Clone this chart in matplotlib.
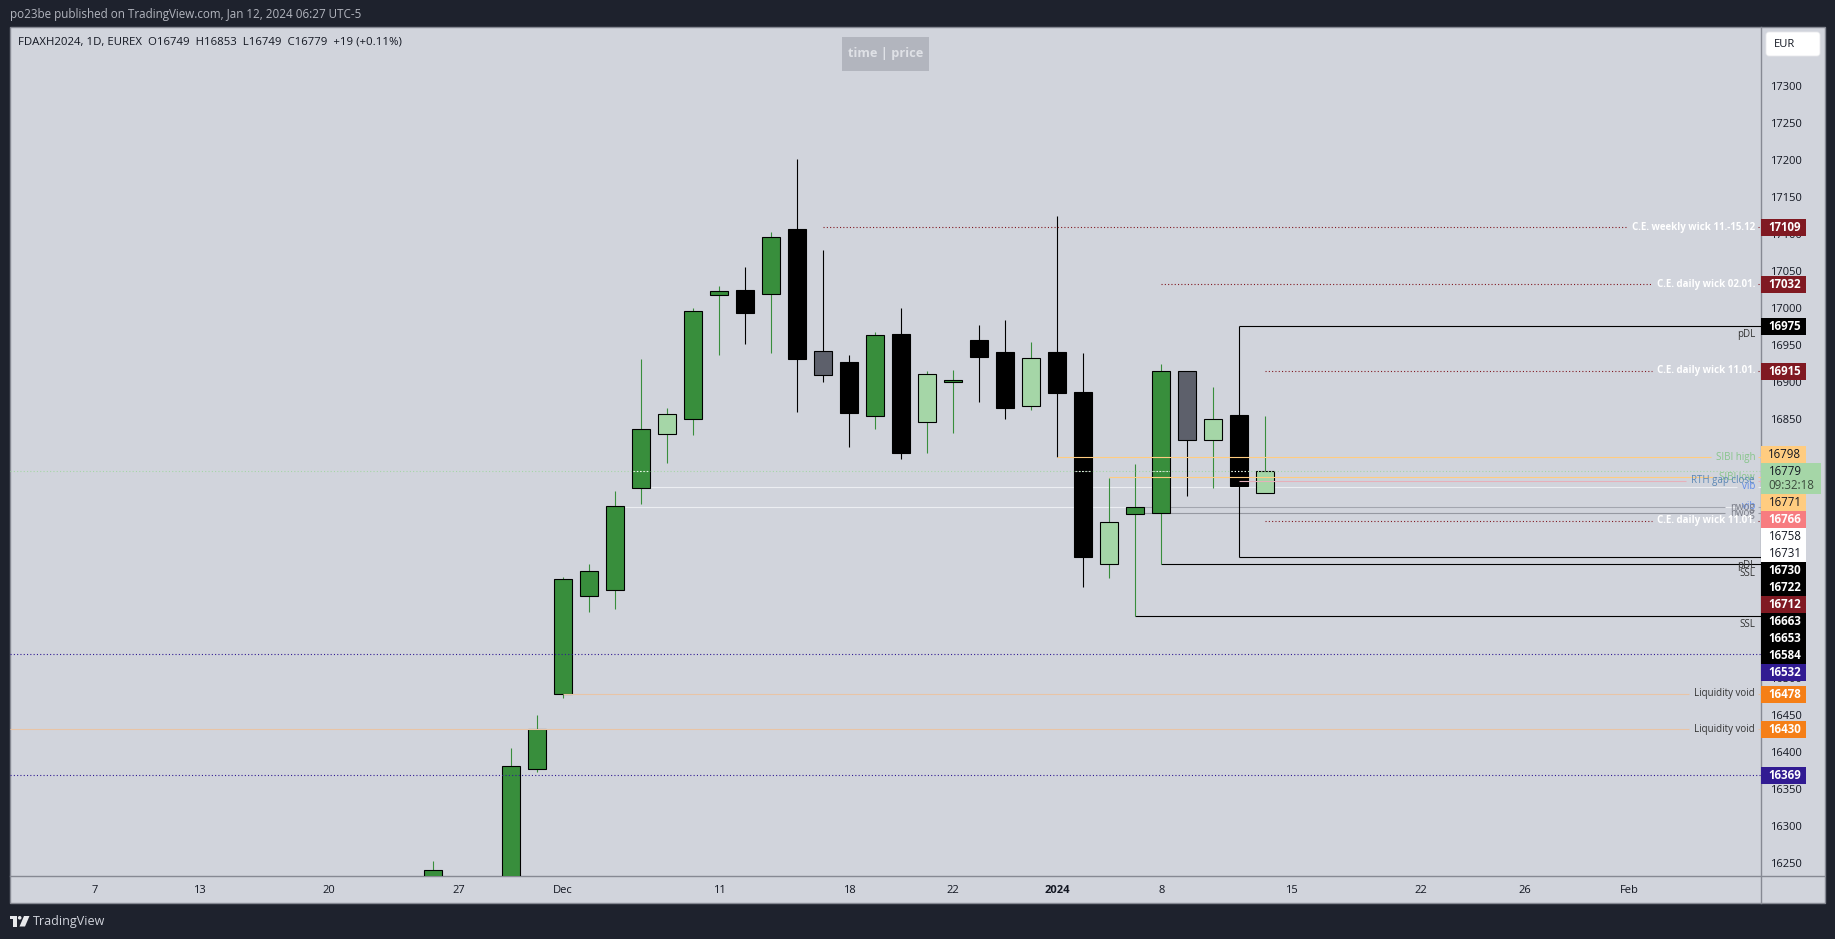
import matplotlib
matplotlib.use('Agg')
import matplotlib.pyplot as plt
from matplotlib.patches import Rectangle, FancyBboxPatch, Polygon, Circle
import pandas as pd

plt.rcParams['font.family'] = ['Open Sans', 'DejaVu Sans']

# daily candles
dates = ['2023-11-24', '2023-11-29', '2023-11-30', '2023-12-01', '2023-12-04', '2023-12-05', '2023-12-06',
         '2023-12-07', '2023-12-08', '2023-12-11', '2023-12-12', '2023-12-13', '2023-12-14', '2023-12-15',
         '2023-12-18', '2023-12-19', '2023-12-20', '2023-12-21', '2023-12-22', '2023-12-27', '2023-12-28',
         '2023-12-29', '2024-01-02', '2024-01-03', '2024-01-04', '2024-01-05', '2024-01-08', '2024-01-09',
         '2024-01-10', '2024-01-11', '2024-01-12']
opens = [16200, 16210, 16376, 16478, 16611, 16619, 16757, 16829, 16850, 17017, 17024, 17019, 17106, 16941,
         16927, 16853, 16964, 16845, 16899, 16956, 16940, 16867, 16940, 16886, 16653, 16721, 16722, 16915,
         16821, 16855, 16749]
highs = [16252, 16405, 16450, 16636, 16654, 16752, 16931, 16864, 17000, 17029, 17055, 17102, 17201, 17078,
         16936, 16967, 17000, 16914, 16916, 16977, 16983, 16954, 17124, 16939, 16770, 16789, 16924, 16915,
         16893, 16975, 16853]
lows = [16190, 16200, 16373, 16473, 16589, 16593, 16735, 16790, 16828, 16936, 16951, 16939, 16859, 16899,
        16812, 16836, 16796, 16804, 16831, 16872, 16849, 16862, 16798, 16623, 16635, 16584, 16653, 16745,
        16757, 16663, 16749]
closes = [16240, 16380, 16430, 16634, 16644, 16732, 16836, 16856, 16996, 17023, 16993, 17095, 16931, 16909,
          16858, 16963, 16804, 16911, 16902, 16934, 16864, 16932, 16885, 16663, 16710, 16730, 16915, 16821,
          16850, 16759, 16779]
# g dark green, l light green, b black, s slate
kinds = ['g', 'g', 'g', 'g', 'g', 'g', 'g', 'l', 'g', 'g', 'b', 'g', 'b', 's', 'b', 'g', 'b', 'l', 'g', 'b',
         'b', 'l', 'b', 'b', 'l', 'g', 'g', 's', 'l', 'b', 'l']

# horizontal levels drawn on the chart
level_price = [17109, 17032, 16975, 16915, 16798, 16771, 16766, 16758, 16731, 16730, 16722, 16712, 16663,
               16653, 16584, 16532, 16478, 16430, 16369]
level_start = ['2023-12-15', '2024-01-08', '2024-01-11', '2024-01-12', '2024-01-02', '2024-01-04', '2024-01-11',
               '2023-12-06', '2023-12-05', '2024-01-05', '2024-01-05', '2024-01-12', '2024-01-11', '2024-01-08',
               '2024-01-05', None, '2023-12-01', None, None]
level_color = ['#801922', '#801922', '#000000', '#801922', '#ffcc80', '#ffcc80', '#e6b0ba', '#eceef2', '#eceef2',
               '#a3a6af', '#9598a1', '#801922', '#000000', '#000000', '#000000', '#311b92', '#e8c4a6', '#e8c4a6',
               '#311b92']
level_dotted = [True, True, False, True, False, False, False, False, False, False, False, True, False, False,
                False, True, False, False, True]
level_text = ['C.E. weekly wick 11.-15.12', 'C.E. daily wick 02.01.', 'pDL', 'C.E. daily wick 11.01.', 'SIBI high',
              'SIBI low', 'RTH gap close', 'vib', 'vib', 'nwog', 'nwog', 'C.E. daily wick 11.01.', 'pDL', 'SSL',
              'SSL', '', 'Liquidity void', 'Liquidity void', '']
text_color = ['white', 'white', '#333333', 'white', '#86c58a', '#86c58a', '#5b87b5', '#5f8ae8', '#5f8ae8', '#787b86',
              '#787b86', 'white', '#333333', '#333333', '#333333', 'black', '#333333', '#333333', 'black']
text_below = [False, False, True, False, False, False, False, False, False, False, False, False, True, True,
              True, False, False, False, False]

# price tags on the right scale, top to bottom
tag_text = ['17109', '17032', '16975', '16915', '16798', '16771', '16766', '16758', '16731', '16730', '16722',
            '16712', '16663', '16653', '16584', '16532', '16478', '16430', '16369']
tag_y = [227.5, 284.5, 326.5, 371.5, 454.7, 502.7, 519.7, 536.7, 553.7, 570.7, 587.7, 604.7, 621.7, 638.7,
         655.7, 672.7, 694.3, 729.5, 775.3]
tag_color = ['#801922', '#801922', '#000000', '#801922', '#ffcc80', '#ffcc80', '#f77c80', '#ffffff', '#ffffff',
             '#000000', '#000000', '#801922', '#000000', '#000000', '#000000', '#311b92', '#f57f17', '#f57f17',
             '#311b92']
tag_ink = ['white', 'white', 'white', 'white', '#131722', '#131722', 'white', '#131722', '#131722', 'white',
           'white', 'white', 'white', 'white', 'white', 'white', 'white', 'white', 'white']

price_ticks = list(range(16250, 17301, 50))
time_tick_dates = ['2023-11-07', '2023-11-13', '2023-11-20', '2023-11-27', '2023-12-01', '2023-12-11', '2023-12-18',
                   '2023-12-22', '2024-01-02', '2024-01-08', '2024-01-15', '2024-01-22', '2024-01-26', '2024-02-01']
time_tick_text = ['7', '13', '20', '27', 'Dec', '11', '18', '22', '2024', '8', '15', '22', '26', 'Feb']

last_price = 16779
countdown = '09:32:18'
header = 'po23be published on TradingView.com, Jan 12, 2024 06:27 UTC-5'
legend = 'FDAXH2024, 1D, EUREX  O16749  H16853  L16749  C16779  +19 (+0.11%)'

W, H = 1835, 939
PX = 0.72  # one pixel in points at dpi 100
DARK = '#1e222d'
PANEL = '#d1d4dc'
EDGE = '#868993'
INK = '#131722'

days = pd.bdate_range('2023-11-07', '2024-02-02').drop(pd.to_datetime(['2023-12-25', '2023-12-26', '2024-01-01']))


def pos(d):
    return days.get_loc(pd.Timestamp(d))


def axes_box(left, top, right, bottom):
    return [left / W, 1 - bottom / H, (right - left) / W, (bottom - top) / H]


fig = plt.figure(figsize=(W / 100, H / 100), dpi=100, facecolor=DARK)

# frame behind the chart, in pixels
back = fig.add_axes([0, 0, 1, 1], zorder=0)
back.set_xlim(0, W)
back.set_ylim(H, 0)
back.axis('off')
back.add_patch(Rectangle((10, 27), 1814.5, 876, fc=PANEL, ec=EDGE, lw=1.4 * PX))
back.plot([10, 1824], [876, 876], color=EDGE, lw=1.4 * PX)
back.plot([1761, 1761], [27, 903], color=EDGE, lw=1.4 * PX)
back.text(10, 14.5, header, color='#b2b5be', fontsize=8.35, va='center')
back.text(33, 921, 'TradingView', color='#d1d4dc', fontsize=9, va='center')
back.add_patch(Rectangle((10, 916), 7, 3, fc='#e8e9ec', ec='none'))
back.add_patch(Rectangle((13, 916), 4, 10.5, fc='#e8e9ec', ec='none'))
back.add_patch(Circle((19.7, 917.8), 1.8, fc='#e8e9ec', ec='none'))
back.add_patch(Polygon([[24, 916], [29.5, 916], [25, 926.5], [19.5, 926.5]], fc='#e8e9ec', ec='none'))

ax = fig.add_axes(axes_box(10, 27, 1761, 876), zorder=1)
ax.patch.set_visible(False)
for s in ax.spines.values():
    s.set_visible(False)
ax.set_xlim((10 - 95.2) / 26, (1761 - 95.2) / 26)
ax.set_ylim(17300 - (876 - 85.7) * 1.3514, 17300 + (85.7 - 27) * 1.3514)

ax.yaxis.tick_right()
ax.set_yticks(price_ticks)
ax.set_yticklabels([str(p) for p in price_ticks])
ax.tick_params(axis='y', length=0, pad=6.3, labelsize=8, labelcolor=INK)
ax.set_xticks([pos(d) for d in time_tick_dates])
ax.set_xticklabels(time_tick_text)
ax.tick_params(axis='x', length=0, pad=6.5, labelsize=8, labelcolor=INK)
for lab in ax.get_xticklabels():
    if lab.get_text() == '2024':
        lab.set_fontweight('bold')

# candles
fills = {'g': '#388e3c', 'l': '#a5d6a7', 'b': '#000000', 's': '#5d606b'}
wicks = {'g': '#388e3c', 'l': '#388e3c', 'b': '#000000', 's': '#000000'}
for d, o, h, l, c, k in zip(dates, opens, highs, lows, closes, kinds):
    x = pos(d)
    ax.vlines(x, l, h, color=wicks[k], lw=1.1 * PX, zorder=3, snap=True)
    ax.bar(x, abs(c - o), bottom=min(o, c), width=0.68, color=fills[k], edgecolor='black', lw=1.1 * PX, zorder=4)

# levels with their text, the line leaves a gap around the text
renderer = fig.canvas.get_renderer()
x_right = ax.get_xlim()[1]
for i, price in enumerate(level_price):
    x0 = ax.get_xlim()[0] if level_start[i] is None else pos(level_start[i])
    ls = (0, (1, 2)) if level_dotted[i] else '-'
    # white vib, grey nwog and black lines run behind the candles
    z = 2 if level_color[i] in ('#eceef2', '#a3a6af', '#9598a1', '#000000') else 5
    spans = [(x0, x_right)]
    if level_text[i]:
        dy = -8.7 * PX if text_below[i] else 0
        t = ax.annotate(level_text[i], xy=(1, price), xycoords=ax.get_yaxis_transform(), xytext=(-6 * PX, dy),
                        textcoords='offset points', ha='right', va='center', fontsize=7.05, color=text_color[i],
                        fontweight='bold' if text_color[i] == 'white' else 'normal', zorder=6)
        if not text_below[i]:
            box = t.get_window_extent(renderer)
            inv = ax.transData.inverted()
            left = inv.transform((box.x0 - 5, 0))[0]
            right = inv.transform((box.x1 + 3, 0))[0]
            spans = [(x0, left), (right, x_right)]
    for a, b in spans:
        ax.hlines(price, a, b, color=level_color[i], lw=1.1 * PX, linestyles=ls, zorder=z, snap=True)

# last price dotted line, white where it crosses a body
ax.hlines(last_price, *ax.get_xlim(), color='#a5d6a7', lw=1.1 * PX, linestyles=(0, (1, 2)), zorder=5, snap=True)
for d, o, c in zip(dates, opens, closes):
    if min(o, c) < last_price < max(o, c):
        ax.hlines(last_price, pos(d) - 0.3, pos(d) + 0.3, color='white', lw=1.1 * PX, linestyles=(0, (1, 2)),
                  zorder=5, snap=True)

# tags, legend and buttons on top
top = fig.add_axes([0, 0, 1, 1], zorder=2)
top.set_xlim(0, W)
top.set_ylim(H, 0)
top.axis('off')
top.patch.set_visible(False)
for txt, y, col, ink in zip(tag_text, tag_y, tag_color, tag_ink):
    top.add_patch(Rectangle((1761, y - 8.5), 45, 17, fc=col, ec='none'))
    top.text(1785, y, txt, color=ink, fontsize=8.3, ha='center', va='center',
             fontweight='bold' if ink == 'white' else 'normal')
top.add_patch(Rectangle((1761, 463.2), 60, 31, fc='#a5d6a7', ec='none'))
top.text(1785, 471.7, str(last_price), color=INK, fontsize=8.3, ha='center', va='center')
top.text(1791, 485.7, countdown, color='#3a4a3c', fontsize=8.3, ha='center', va='center')

top.add_patch(FancyBboxPatch((1767, 33), 52, 22, boxstyle='round,pad=1,rounding_size=3', fc='white', ec='#e8e9ec', lw=0.6))
top.text(1774, 44.5, 'EUR', color=INK, fontsize=8, va='center')
top.text(18, 42, legend, color=INK, fontsize=8.2, va='center')
top.add_patch(Rectangle((842, 37), 87, 33.7, fc='#b2b5be', ec='none'))
top.text(885.5, 53.5, 'time | price', color='#dfe1e6', fontsize=9.2, fontweight='bold', ha='center', va='center')

fig.savefig('out.png', dpi=100, facecolor=DARK)
